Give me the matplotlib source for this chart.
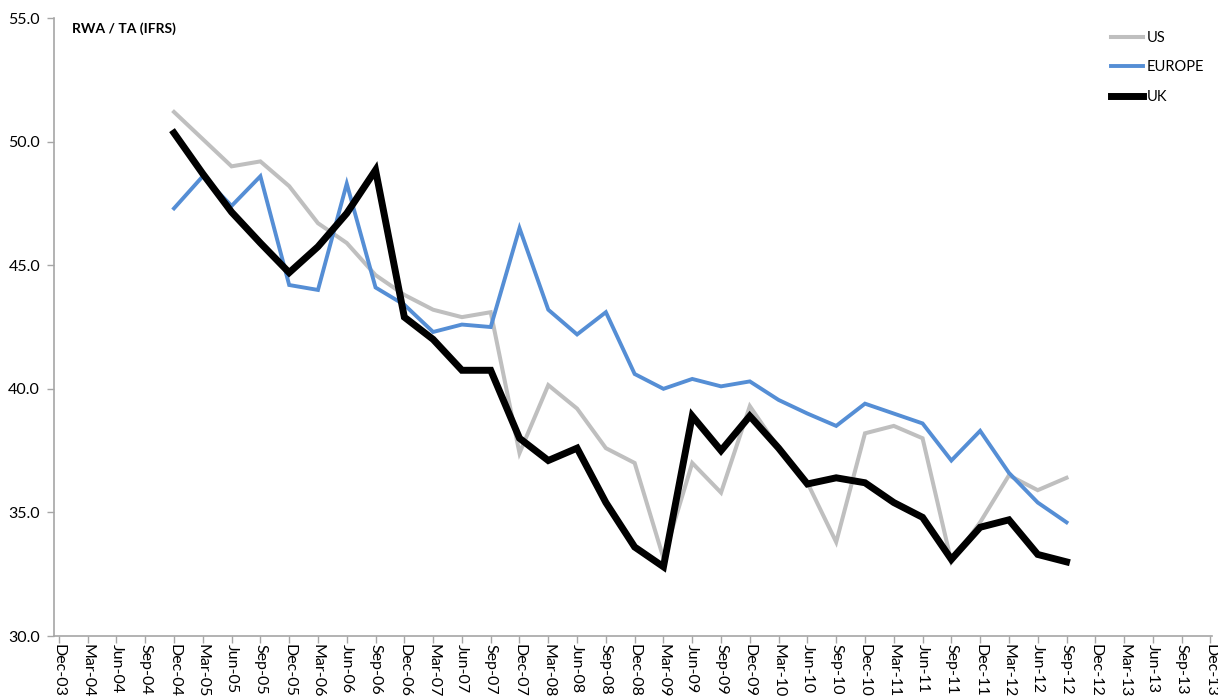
import matplotlib.pyplot as plt
import numpy as np

plt.rcParams['font.family'] = ['Lato', 'DejaVu Sans']

# quarterly categories Dec-03 .. Dec-13
quarters = ['Dec-03']
for yr in range(4, 14):
    for m in ['Mar', 'Jun', 'Sep', 'Dec']:
        quarters.append('%s-%02d' % (m, yr))

# data from Dec-04 to Sep-12
start = quarters.index('Dec-04')
us = [51.2, 50.1, 49.0, 49.2, 48.2, 46.7, 45.9, 44.6, 43.8, 43.2, 42.9, 43.1,
      37.4, 40.15, 39.2, 37.6, 37.0, 33.15, 37.0, 35.8, 39.3, 37.6, 36.2, 33.8,
      38.2, 38.5, 38.0, 33.0, 34.6, 36.5, 35.9, 36.4]
europe = [47.3, 48.6, 47.4, 48.6, 44.2, 44.0, 48.3, 44.1, 43.4, 42.3, 42.6, 42.5,
          46.5, 43.2, 42.2, 43.1, 40.6, 40.0, 40.4, 40.1, 40.3, 39.55, 39.0, 38.5,
          39.4, 39.0, 38.6, 37.1, 38.3, 36.6, 35.4, 34.6]
uk = [50.35, 48.7, 47.15, 45.9, 44.7, 45.75, 47.1, 48.85, 42.9, 42.0, 40.75, 40.75,
      38.0, 37.1, 37.6, 35.4, 33.6, 32.8, 38.9, 37.5, 38.9, 37.6, 36.15, 36.4,
      36.2, 35.4, 34.8, 33.1, 34.4, 34.7, 33.3, 33.0]

x = np.arange(start, start + len(uk))

fig = plt.figure(figsize=(12.18, 6.99), dpi=100)
ax = fig.add_axes([0.0443, 0.0901, 0.9507, 0.8841])

ax.plot(x, us, color='#BFBFBF', lw=2.9, label='US', solid_joinstyle='miter')
ax.plot(x, europe, color='#558ED5', lw=2.8, label='EUROPE', solid_joinstyle='miter')
ax.plot(x, uk, color='black', lw=5, label='UK', solid_joinstyle='miter')

ax.set_ylim(30, 55)
ax.set_yticks(np.arange(30, 55.1, 5))
ax.set_yticklabels(['%.1f' % v for v in np.arange(30, 55.1, 5)], fontsize=11.5)
ax.set_xlim(-0.17, 40.05)
ax.set_xticks(np.arange(len(quarters)))
ax.set_xticklabels(quarters, rotation=-90, fontsize=11.5, va='top', ha='center')

for s in ['top', 'right']:
    ax.spines[s].set_visible(False)
for s in ['left', 'bottom']:
    ax.spines[s].set_color('#A6A6A6')
    ax.spines[s].set_linewidth(1.2)
ax.tick_params(axis='both', color='#A6A6A6', length=5, width=1.0, direction='out')
ax.tick_params(axis='y', pad=5)
ax.tick_params(axis='x', pad=1)

ax.text(0.016, 0.993, 'RWA / TA (IFRS)', transform=ax.transAxes, fontsize=10,
        fontweight='bold', va='top', ha='left')

leg = ax.legend(loc='upper right', bbox_to_anchor=(1.005, 1.0), frameon=False,
                fontsize=10.5, handlelength=2.2, handletextpad=0.3, labelspacing=1.05)

fig.savefig('out.png', dpi=100)
